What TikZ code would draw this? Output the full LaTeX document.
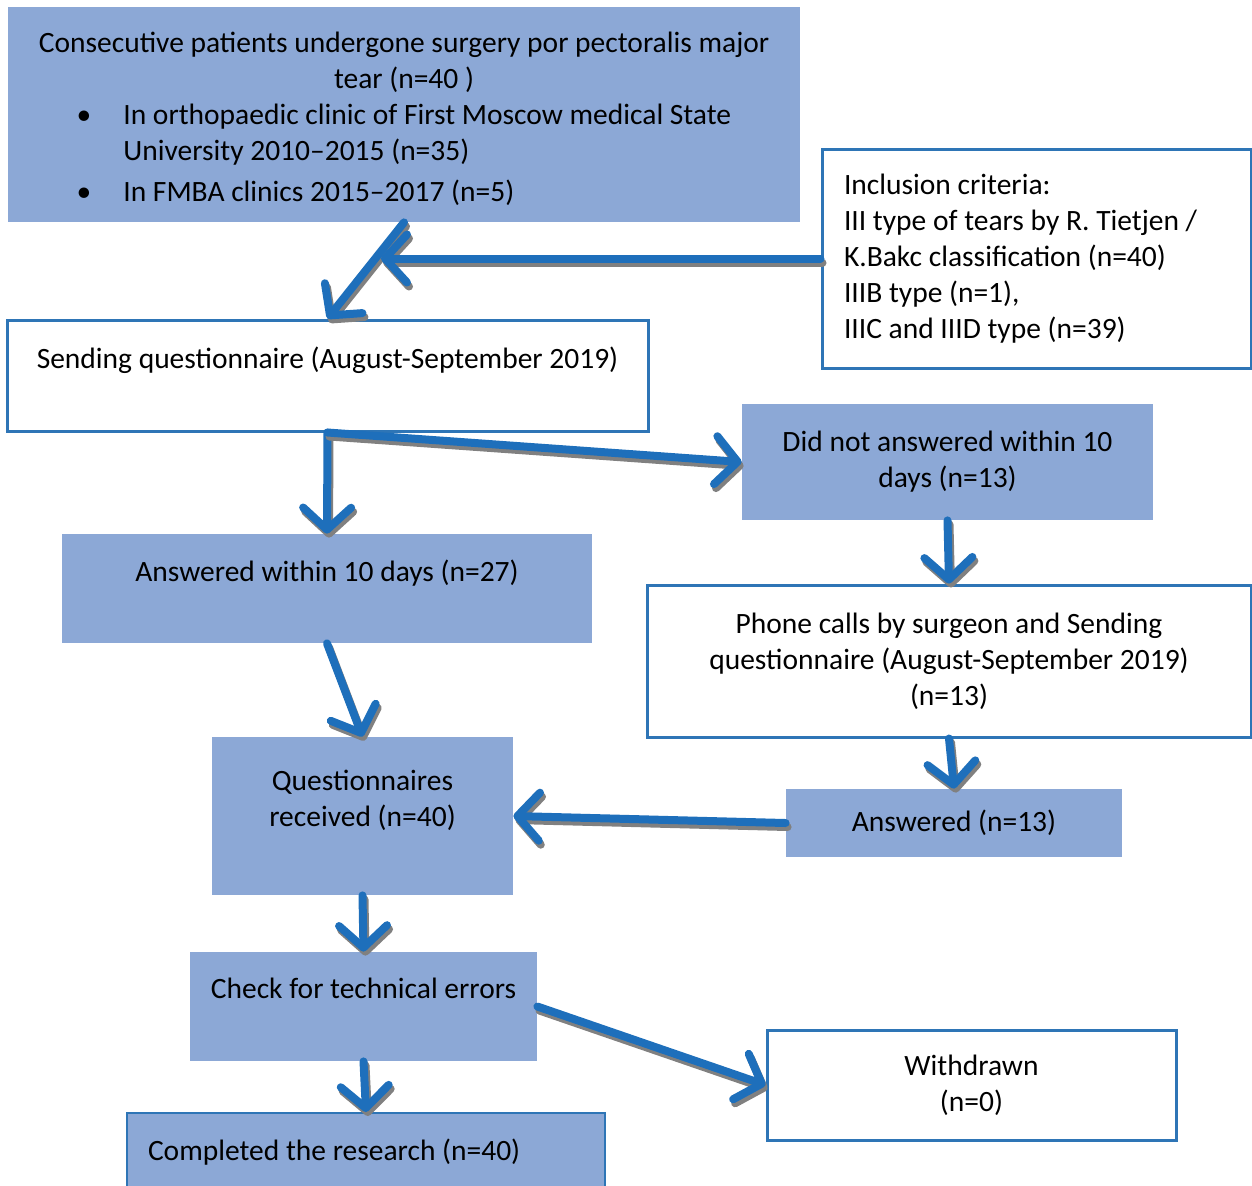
\documentclass[tikz,border=0pt]{standalone}
\usepackage{fontspec}
\setmainfont{Carlito}
\usepackage{tikz}
\usetikzlibrary{arrows.meta, calc}

\definecolor{boxfill}{RGB}{140,168,214}
\definecolor{boxline}{RGB}{46,117,182}
\definecolor{arrowblue}{RGB}{30,111,187}

% arrow with its grey shadow
\newcommand{\flowarrow}[2]{%
  \draw[flowshadow] (#1) -- (#2);
  \draw[flow] (#1) -- (#2);}

\begin{document}
\begin{tikzpicture}[x=0.5pt, y=-0.5pt,
    every node/.style={font=\fontsize{14.75}{18}\selectfont, align=center},
    filled/.style={fill=boxfill, inner sep=0pt},
    framed/.style={draw=boxline, line width=1.5pt, fill=white, inner sep=0pt},
    flow/.style={draw=arrowblue, line width=4pt, line cap=round,
        -{Straight Barb[length=11pt, width=24pt, round]}},
    flowshadow/.style={flow, draw=black!50, transform canvas={shift={(1pt,-2pt)}}}]
            \useasboundingbox (0,0) rectangle (1252,1185);

            % Boxes
            \node[filled, minimum width=396pt, minimum height=107.5pt] (patients) at (404,114.5) {};
            \node[inner sep=0pt] (patients-t) at (404,62) {Consecutive patients undergone surgery por pectoralis major\\tear (n=40 )};
            \node[inner sep=0pt, anchor=west, align=left] (patients-a) at (123,135) {\llap{\textbullet\hspace{16pt}}In orthopaedic clinic of First Moscow medical State\\University 2010--2015 (n=35)};
            \node[inner sep=0pt, anchor=west, align=left] (patients-b) at (123,193) {\llap{\textbullet\hspace{16pt}}In FMBA clinics 2015--2017 (n=5)};

            \node[framed, minimum height=109.5pt, text width=192.5pt, inner xsep=11pt, align=flush left] (incl) at (1036.5,258.5)
                {Inclusion criteria:\\III type of tears by R. Tietjen /\\K.Bakc classification (n=40)\\IIIB type (n=1),\\IIIC and IIID type (n=39)};

            \node[framed, minimum width=320.5pt, minimum height=55.5pt] (send) at (327.5,375.5) {Sending questionnaire (August-September 2019)\\\mbox{}};
            \node[filled, minimum width=205.5pt, minimum height=58pt] (nodays) at (947.5,462) {Did not answered within 10\\days (n=13)};
            \node[filled, minimum width=265pt, minimum height=54.5pt] (ans) at (327,588.5) {Answered within 10 days (n=27)\\\mbox{}};
            \node[framed, minimum width=302pt, minimum height=76pt] (phone) at (949,661) {Phone calls by surgeon and Sending\\questionnaire (August-September 2019)\\(n=13)};
            \node[filled, minimum width=150.5pt, minimum height=79pt] (qrec) at (362.5,816) {Questionnaires\\received (n=40)\\\mbox{}};
            \node[filled, minimum width=168pt, minimum height=34pt] (ans13) at (954,823) {Answered (n=13)};
            \node[filled, minimum width=173.5pt, minimum height=54.5pt] (check) at (363.5,1006.5) {Check for technical errors\\\mbox{}};
            \node[framed, minimum width=204.5pt, minimum height=55pt] (withdr) at (971.5,1085) {Withdrawn\\(n=0)};
            \node[filled, draw=boxline, line width=1pt, minimum height=54.5pt, text width=218pt, inner xsep=10.5pt, align=flush left] (done) at (366,1167.5)
                {Completed the research (n=40)\\\mbox{}};

            % Arrows
            \coordinate (meet) at (381,258.5);
            \flowarrow{patients.south}{send.north}
            \flowarrow{incl.west}{meet}
            \flowarrow{send.south}{ans.north}
            \flowarrow{send.south}{nodays.west}
            \flowarrow{nodays.south}{phone.north}
            \flowarrow{ans.south}{qrec.north}
            \flowarrow{phone.south}{ans13.north}
            \flowarrow{ans13.west}{qrec.east}
            \flowarrow{qrec.south}{check.north}
            \flowarrow{check.east}{withdr.west}
            \flowarrow{check.south}{done.north}
        \end{tikzpicture}
\end{document}
